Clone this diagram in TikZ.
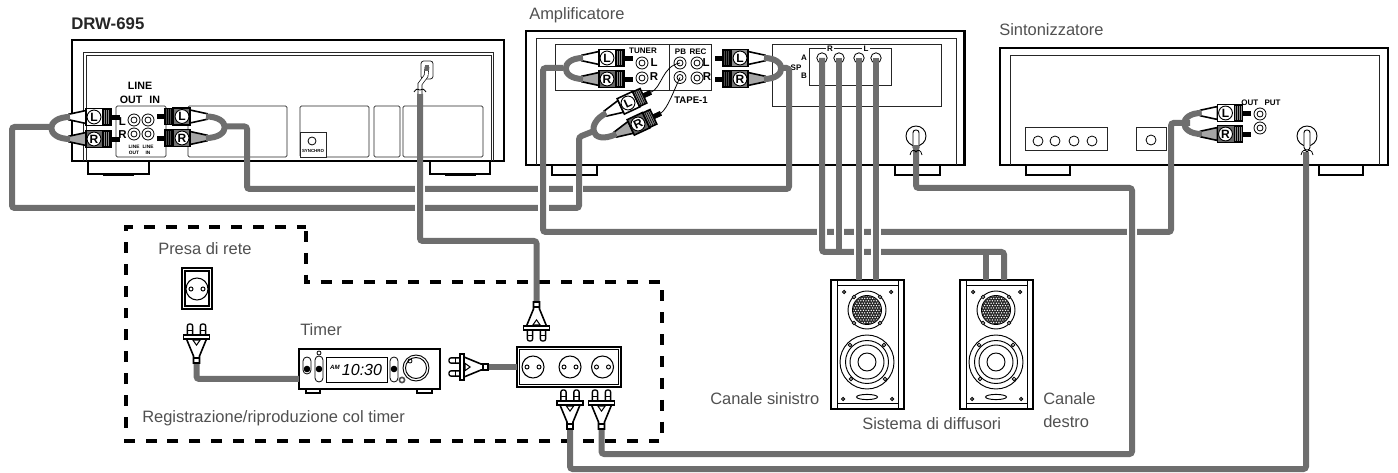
\documentclass[tikz,border=0pt]{standalone}
\usepackage{fontspec}
\setmainfont{Liberation Sans}
\definecolor{cab}{HTML}{6E6E6E}
\definecolor{txt}{HTML}{505050}
\tikzset{
  x=0.75pt,y=-0.75pt,
  cable/.style={draw=cab,line width=4.5pt,rounded corners=2pt},
  patchw/.style={fill=white,draw=none},
  outerbox/.style={draw=black,line width=1.8pt},
  innerbox/.style={draw=black!85,line width=0.6pt},
  panelbox/.style={draw=black!85,line width=0.6pt,fill=white},
  foot/.style={draw=black,line width=1.2pt,fill=white},
  jack/.style={draw=black,line width=0.6pt,fill=white},
  wire/.style={draw=black,line width=0.6pt},
  lab/.style={text=txt,anchor=west,inner sep=0pt,font=\fontsize{12.35}{14}\selectfont},
  tiny/.style={inner sep=0pt,align=center,font=\bfseries\fontsize{3.6}{4.6}\selectfont},
  small/.style={inner sep=0pt,font=\bfseries\fontsize{6}{7}\selectfont},
  mid/.style={inner sep=0pt,font=\bfseries\fontsize{8.6}{9}\selectfont},
  dashbox/.style={draw=black,line width=2.5pt,dash pattern=on 8.2pt off 8.2pt},
}
% name, position, rotation, letter, taper fill, body fill, rib fill, letter rotation
\newcommand{\rcaplug}[8]{%
  \begin{scope}[shift={(#2)},rotate=#3]
    \coordinate (#1-tail) at (-24,0);
    \coordinate (#1-tip) at (25,0);
    \draw[fill=#5,line width=1.2pt] (-25,-2.8) -- (-8,-6.5) -- (-8,6.5) -- (-25,2.8) -- cycle;
    \draw[fill=black,line width=0.4pt] (16,-2.2) rectangle (25,2.2);
    \draw[fill=#6,line width=1.2pt] (-8,-8.5) rectangle (9,8.5);
    \draw[fill=#7,line width=1.2pt] (9,-8) rectangle (17,8);
    \foreach \q in {11,13,15} \draw[line width=0.5pt] (\q,-8) -- (\q,8);
    \node[circle,draw=black,line width=0.7pt,fill=white,minimum size=10.4pt,inner sep=0pt,
      font=\bfseries\fontsize{9}{9}\selectfont,rotate=#8] (#1-lab) at (0,0) {#4};
  \end{scope}}
% name, position, rotation
\newcommand{\powerplug}[3]{%
  \begin{scope}[shift={(#2)},rotate=#3]
    \coordinate (#1-tail) at (0,25);
    \foreach \s in {-6.5,6.5}{
      \draw[fill=white,line width=1pt,rounded corners=1.5pt] (\s-2.6,2) -- (\s-2.6,-13) -- (\s+2.6,-13) -- (\s+2.6,2) -- cycle;
      \draw[line width=0.7pt] (\s-2.6,-7) -- (\s+2.6,-7);
    }
    \draw[fill=white,line width=1.2pt] (-10,2) -- (-3,19) -- (-3,26) -- (3,26) -- (3,19) -- (10,2) -- cycle;
    \fill[black] (-5,2) -- (5,2) -- (0,9) -- cycle;
    \fill[white] (-2.4,3.6) -- (2.4,3.6) -- (0,7) -- cycle;
    \draw[line width=0.8pt] (-3,21) -- (3,21);
    \draw[fill=white,line width=1.3pt] (-13,-2.2) rectangle (13,2.2);
  \end{scope}}
\newcommand{\outlet}[1]{%
  \draw[line width=0.8pt,fill=white] (#1) circle[radius=11];
  \begin{scope}[shift={(#1)}]
    \draw[line width=0.7pt,fill=white] (-6,0) circle[radius=2];
    \draw[line width=0.7pt,fill=white] (6,0) circle[radius=2];
  \end{scope}}
\newcommand{\rjack}[1]{%
  \draw[jack] (#1) circle[radius=6];
  \draw[jack] (#1) circle[radius=3];}
\newcommand{\speakerbox}[1]{%
  \begin{scope}[shift={(#1)}]
    \draw[line width=1pt,fill=white] (0,0) rectangle (73,129);
    \draw[line width=0.7pt] (6,0) -- (6,129) (67,0) -- (67,129) (6,5) -- (67,5) (6,123.5) -- (67,123.5);
    \foreach \p in {(13,12),(60,12),(12,119),(61,119)} \draw[line width=0.7pt] \p circle[radius=1.6];
    \draw[line width=0.7pt] (36,30) circle[radius=19];
    \begin{scope}
      \clip (36,30) circle[radius=14];
      \fill[black!85] (20,14) rectangle (52,46);
      \foreach \i in {0,...,11}{\foreach \j in {0,...,11}{
        \fill[white] ({22+\i*2.6+mod(\j,2)*1.3},{16+\j*2.4}) circle[radius=0.75];}}
    \end{scope}
    \draw[line width=0.7pt] (36,30) circle[radius=14.5];
    \foreach \p in {(23,17),(49,17),(23,43),(49,43)} \draw[line width=0.6pt,fill=white] \p circle[radius=1.7];
    \draw[line width=0.7pt] (36,82) circle[radius=27];
    \draw[line width=0.7pt] (36,82) circle[radius=21.5];
    \draw[line width=0.7pt] (36,82) circle[radius=17];
    \draw[line width=0.7pt] (36,82) circle[radius=9];
    \foreach \p in {(19,65),(53,65),(20,99),(54,99)} \draw[line width=0.6pt,fill=white] \p circle[radius=1.8];
    \draw[line width=0.7pt] (36,117) ellipse[x radius=10.5,y radius=2.6];
  \end{scope}}
\newcommand{\capsule}[3]{%
  \draw[line width=0.6pt,rounded corners=3pt] (#1-4,#2) rectangle (#1+4,#3);
  \fill[black] (#1,369) circle[radius=3.3];}
% mains lead entering a round inlet
\newcommand{\inletplug}[1]{%
  \begin{scope}[shift={(#1)}]
    \draw[fill=white,line width=0.7pt,rounded corners=2pt] (-3,-1) rectangle (3,19);
    \draw[line width=0.6pt] (-6,24) .. controls (-5,19) and (-2,18) .. (0,21) .. controls (2,18) and (5,19) .. (6,24);
  \end{scope}}
\begin{document}
\begin{tikzpicture}
\useasboundingbox (0,0) rectangle (1398,473);
%---------- DRW-695
\draw[foot] (88,161) rectangle (149,174); \draw[foot] (430,161) rectangle (490,174);
\draw[line width=1pt] (103,175) -- (134,175); \draw[line width=1pt] (445,175) -- (476,175);
\draw[outerbox,fill=white] (72,40) rectangle (504,161);
\draw[innerbox] (83,161) -- (83,52.5) -- (493,52.5) -- (493,161);
\draw[innerbox] (86,161) -- (86,55.5) -- (491,55.5) -- (491,161);
\draw[panelbox,rounded corners=1pt] (116,106) rectangle (166,157);
\draw[panelbox,rounded corners=1pt] (188,106) rectangle (287,157);
\draw[panelbox,rounded corners=1pt] (300,106) rectangle (369,157);
\draw[panelbox] (300,132) rectangle (326,157);
\draw[jack] (312,141) circle[radius=4];
\draw[panelbox,rounded corners=1pt] (374,106) rectangle (400,157);
\draw[panelbox,rounded corners=1pt] (403,106) rectangle (483,157);
\draw[panelbox,rounded corners=2pt] (421,61) rectangle (433,79);
\node[tiny,font=\bfseries\fontsize{3.3}{4}\selectfont] (syn) at (313,150.5) {SYNCHRO};
\node[inner sep=0pt,anchor=west,font=\bfseries\fontsize{12.6}{14}\selectfont,text=black!85] (drwname) at (71,24) {DRW-695};
\node[inner sep=0pt,font=\bfseries\fontsize{8}{9}\selectfont] (l1) at (140,86) {LINE};
\node[inner sep=0pt,font=\bfseries\fontsize{8}{9}\selectfont] (l2) at (140,100) {OUT\hspace{3pt} IN};
\node[mid] (l3) at (122.5,122) {L};
\node[mid] (l4) at (122.5,135) {R};
\rjack{134,120}\rjack{148,120}\rjack{134,134}\rjack{148,134}
\node[tiny] (l5) at (134,149.5) {LINE\\OUT};
\node[tiny] (l6) at (148,149.5) {LINE\\IN};
%---------- Amplifier
\draw[foot] (552,165) rectangle (597,175); \draw[foot] (895,165) rectangle (940,175);
\draw[outerbox,fill=white] (526,31) rectangle (964.5,165);
\draw[innerbox] (536,165) -- (536,38) -- (956,38) -- (956,165);
\draw[panelbox] (555,44) rectangle (669,90);
\draw[panelbox] (669,44) rectangle (711,90);
\draw[panelbox] (772,44) rectangle (941,106);
\draw[panelbox] (809,48) rectangle (891,85);
\node[small,fill=white,inner xsep=1pt] (ar) at (830,48.5) {R};
\node[small,fill=white,inner xsep=1pt] (al) at (866,48.5) {L};
\node[small] (at) at (643,51) {TUNER};
\node[mid] (a1) at (654,63) {L};
\node[mid] (a2) at (654,77) {R};
\node[small] (a3) at (680.5,52) {PB};
\node[small] (a4) at (698,52) {REC};
\node[mid] (a5) at (706,63) {L};
\node[mid] (a6) at (707,77) {R};
\node[inner sep=0pt,font=\bfseries\fontsize{7.2}{8}\selectfont] (a7) at (691,100.5) {TAPE-1};
\node[small] (a8) at (796,68) {SP};
\node[small] (a9) at (804,58) {A};
\node[small] (a10) at (804,76) {B};
\rjack{642,63}\rjack{642,78}\rjack{680,63}\rjack{680,77.5}\rjack{697,63}\rjack{697,78}
\foreach \q in {822,839,859,876} \draw[jack] (\q,58) circle[radius=5.2];
\draw[line width=0.7pt,fill=white] (916,136) circle[radius=10];
\node[lab] (ampname) at (529,15) {Amplificatore};
%---------- Tuner
\draw[foot] (1026,165) rectangle (1070,175); \draw[foot] (1319,165) rectangle (1363,175);
\draw[outerbox,fill=white] (1000,48) rectangle (1388,165);
\draw[innerbox] (1010,165) -- (1010,55) -- (1379,55) -- (1379,165);
\draw[panelbox] (1025,127) rectangle (1107,150);
\foreach \q in {1038,1055,1074,1092} \draw[jack] (\q,141) circle[radius=5];
\draw[panelbox] (1136,127) rectangle (1166,150);
\draw[jack] (1151,140) circle[radius=5];
\rjack{1260,114}\rjack{1260,128}
\draw[line width=0.7pt,fill=white] (1307,136) circle[radius=10];
\node[small] (op) at (1261,103) {OUT\hspace{3pt} PUT};
\node[lab] (tunname) at (999,30) {Sintonizzatore};
%---------- Timer box
\draw[dashbox] (306,231) -- (306,282) -- (662,282) -- (662,441) -- (126,441) -- (126,227) -- (306,227);
\node[lab] (presa) at (158,249) {Presa di rete};
\draw[line width=0.8pt] (182,268) rectangle (212,309);
\draw[line width=0.8pt] (185,271) rectangle (209,306);
\outlet{197,289}
\node[lab] (timername) at (300,330) {Timer};
\draw[line width=0.8pt,fill=white] (306,389) rectangle (320,393);
\draw[line width=0.8pt,fill=white] (417,389) rectangle (432,393);
\draw[line width=0.8pt,fill=white] (299,349) rectangle (440,389);
\capsule{307}{357}{374}
\capsule{319}{356}{382}
\draw[line width=0.6pt] (319,353) circle[radius=2];
\draw[line width=0.6pt] (326,357) rectangle (387,382);
\node[inner sep=0pt,font=\bfseries\itshape\fontsize{4.6}{5}\selectfont] (am) at (335,367) {AM};
\node[inner sep=0pt,font=\itshape\fontsize{12}{14}\selectfont] (clock) at (362,369.5) {10:30};
\capsule{394}{357}{382}
\draw[line width=0.7pt] (416,368) circle[radius=13];
\draw[line width=0.7pt] (416,368) circle[radius=10.5];
\draw[line width=0.6pt] (410,361) circle[radius=2];
\draw[line width=1.2pt,fill=white,draw=black!70] (402,380) circle[radius=2.6];
\node[lab] (regi) at (142,418) {Registrazione/riproduzione col timer};
% strip
\draw[line width=0.8pt,fill=white] (517,347) rectangle (621,387);
\draw[line width=0.8pt] (519.5,349.5) rectangle (618.5,384.5);
\outlet{533,367}\outlet{570,367}\outlet{602.5,367}
\coordinate (stripL) at (517,367);
\coordinate (timerIn) at (299,379);
%---------- Speakers
\speakerbox{831,280}
\speakerbox{960,280}
\node[lab] (cs) at (710,399) {Canale sinistro};
\node[lab] (sd) at (862,424) {Sistema di diffusori};
\node[lab] (cd1) at (1043,399) {Canale};
\node[lab] (cd2) at (1043,422) {destro};
%---------- named connector ends
\coordinate (jA) at (51,127);   \coordinate (cA2) at (12,208); \coordinate (jA2) at (579,137);
\coordinate (jB) at (226,126.5); \coordinate (cB1) at (247,189); \coordinate (eB) at (789,68);
\coordinate (jC) at (563,68); \coordinate (cC1) at (543,232); \coordinate (jC2) at (1171,123);
\coordinate (sD) at (420,94); \coordinate (cD1) at (420,241);
\coordinate (t1) at (822,58); \coordinate (t2) at (839,58); \coordinate (t3) at (859,58); \coordinate (t4) at (876,58);
\coordinate (sR1) at (986,280); \coordinate (sR2) at (1004,280); \coordinate (sL1) at (859,280); \coordinate (sL2) at (876,280);
\coordinate (cE2) at (839,252); \coordinate (cE3) at (1004,252);
\coordinate (sG) at (916,145); \coordinate (cG1) at (1132,188); \coordinate (cG2) at (1132,454);
\coordinate (sH) at (1306,155); \coordinate (cH1) at (1306,469);
\coordinate (pStripTop) at (536.5,304);
\coordinate (pA) at (601.5,428); \coordinate (pB) at (570,428);
\coordinate (pP) at (196.5,362); \coordinate (pL) at (487,367);
%---------- cables
\draw[cable] (jB) -| (cB1) -| (eB) -- (783,68);
\fill[patchw] (573,185) rectangle (583,193);
\draw[cable] (jA) -| (cA2) -| (jA2) -- (594,131);
\fill[patchw] (415,185) rectangle (425,212);
\fill[patchw] (538,185) rectangle (549,212);
\draw[cable] (jC) -| (cC1) -| (jC2) -- (1190,123);
\draw[cable] (sD) |- (pStripTop |- cD1) -- (pStripTop);
\foreach \q in {822,839,859,876,1132} \fill[patchw] (\q-5,228) rectangle (\q+5,236);
\draw[cable] (t1) |- (cE3) -- (sR2);
\draw[cable] (t2) -- (cE2);
\draw[cable] (sR1 |- cE3) -- (sR1);
\foreach \q in {859,876} \fill[patchw] (\q-5,248) rectangle (\q+5,256);
\draw[cable] (t3) -- (sL1);
\draw[cable] (t4) -- (sL2);
\draw[cable] (sG) |- (cG1) -- (cG2) -| (pA);
\draw[cable] (sH) -- (cH1) -| (pB);
\draw[cable] (pP) |- (timerIn);
\draw[cable] (pL) -- (stripL);
%---------- loops
\rcaplug{dL}{94,117}{0}{L}{white}{white}{black!45}{0}
\rcaplug{dR}{94,139}{0}{R}{black!35}{black!60}{black!45}{0}
\rcaplug{iL}{182,116.5}{180}{L}{white}{black!55}{black!70}{0}
\rcaplug{iR}{182,138}{180}{R}{black!35}{black!55}{black!70}{0}
\draw[cable] (dL-tail) .. controls +(-25,0) and +(-25,0) .. (dR-tail);
\draw[cable] (iL-tail) .. controls +(25,0) and +(25,0) .. (iR-tail);
\rcaplug{tL}{607,58}{0}{L}{white}{white}{black!45}{0}
\rcaplug{tR}{607,79}{0}{R}{black!35}{black!60}{black!45}{0}
\draw[cable] (tL-tail) .. controls +(-23,0) and +(-23,0) .. (tR-tail);
\rcaplug{oL}{740,58}{180}{L}{white}{black!45}{black!70}{0}
\rcaplug{oR}{740,79}{180}{R}{black!35}{black!55}{black!70}{0}
\draw[cable] (oL-tail) .. controls +(23,0) and +(23,0) .. (oR-tail);
\rcaplug{uL}{1225.5,113}{0}{L}{white}{white}{black!45}{0}
\rcaplug{uR}{1225.5,134}{0}{R}{black!35}{black!60}{black!45}{0}
\draw[cable] (uL-tail) .. controls +(-23,0) and +(-23,0) .. (uR-tail);
\rcaplug{pL1}{628,103}{25}{L}{white}{white}{black!45}{25}
\rcaplug{pR1}{638,124}{25}{R}{black!35}{black!60}{black!45}{25}
\draw[cable] (pL1-tail) .. controls (586,123) and (590,146) .. (pR1-tail);
\draw[wire] (pL1-tip) .. controls (662,88) and (662,66) .. (680,63);
\draw[wire] (pR1-tip) .. controls (668,108) and (674,90) .. (680,77.5);
%---------- mains plugs
\powerplug{pwrP}{196.5,337}{0}
\powerplug{pwrS}{536.5,328}{180}
\powerplug{pwrA}{570,403}{0}
\powerplug{pwrB}{601.5,403}{0}
\powerplug{pwrL}{462,367}{90}
\inletplug{916,131}
\inletplug{1307,131}
\draw[cable] (916,150) -- (sG);
\draw[cable] (1306,152) -- (sH);
% DRW lead into its inlet
\draw[line width=3.4pt,draw=black] (427,67) -- (426,76) -- (420,84) -- (420,94);
\draw[line width=2.4pt,draw=white] (427,67) -- (426,76) -- (420,84) -- (420,94);
\fill[black!60] (425,65) rectangle (429,71);
\draw[line width=0.6pt] (414,92) .. controls (416,89) and (418,88) .. (420,90) .. controls (422,88) and (424,89) .. (426,92);
\draw[cable] (sD) -- (420,100);
\end{tikzpicture}
\end{document}
